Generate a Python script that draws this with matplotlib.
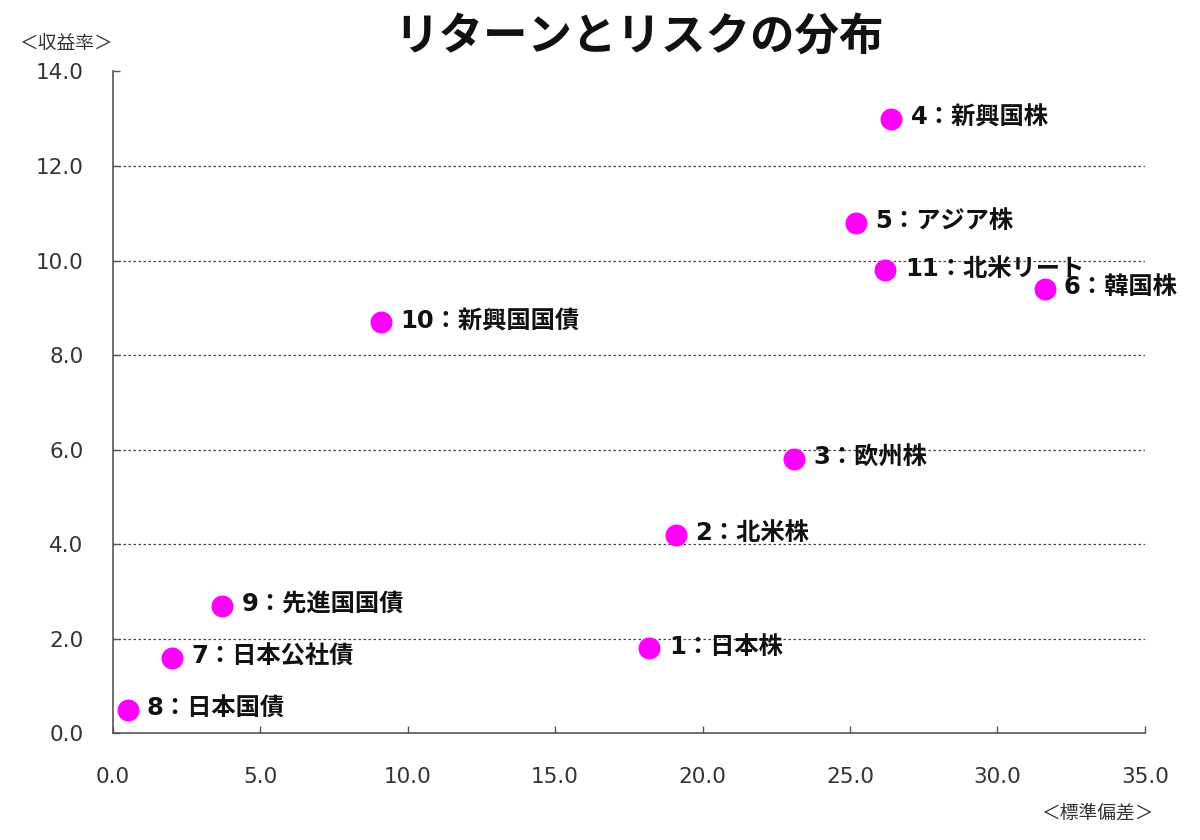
import matplotlib
matplotlib.use("Agg")
import matplotlib.pyplot as plt
from matplotlib.ticker import FormatStrFormatter

plt.rcParams['font.family'] = ['Noto Sans CJK JP', 'DejaVu Sans']

numbers = ["1", "2", "3", "4", "5", "6", "7", "8", "9", "10", "11"]
names = ["日本株", "北米株", "欧州株", "新興国株", "アジア株", "韓国株",
         "日本公社債", "日本国債", "先進国国債", "新興国国債", "北米リート"]
risk = [18.2, 19.1, 23.1, 26.4, 25.2, 31.6, 2.0, 0.5, 3.7, 9.1, 26.2]
ret = [1.8, 4.2, 5.8, 13.0, 10.8, 9.4, 1.6, 0.5, 2.7, 8.7, 9.8]
xticks = [0, 5, 10, 15, 20, 25, 30, 35]
yticks = [0, 2, 4, 6, 8, 10, 12, 14]

fig = plt.figure(figsize=(12, 8.4), dpi=100)
ax = fig.add_axes([0.094, 0.127, 0.860, 0.788])
ax.set_xlim(xticks[0], xticks[-1])
ax.set_ylim(yticks[0], yticks[-1])
ax.set_xticks(xticks)
ax.set_yticks(yticks)
ax.xaxis.set_major_formatter(FormatStrFormatter('%.1f'))
ax.yaxis.set_major_formatter(FormatStrFormatter('%.1f'))
for lab in ax.get_xticklabels() + ax.get_yticklabels():
    lab.set_fontfamily('DejaVu Sans')
ax.tick_params(axis='x', direction='in', length=5, width=1, pad=24,
               labelsize=15.5, labelcolor='#333333', color='#555555')
ax.tick_params(axis='y', direction='in', length=5, width=1, pad=21,
               labelsize=15.5, labelcolor='#333333', color='#555555')
for s in ['top', 'right']:
    ax.spines[s].set_visible(False)
for s in ['left', 'bottom']:
    ax.spines[s].set_color('#555555')
    ax.spines[s].set_linewidth(1.2)

for yv in yticks[1:-1]:
    ax.axhline(yv, color='#444444', linestyle=(0, (2, 2)), linewidth=0.9, zorder=1)

ax.scatter(risk, ret, s=220, color='#FF00FF', zorder=3, clip_on=False)
for n, name, x, y in zip(numbers, names, risk, ret):
    ax.annotate(f"{n}：{name}", (x, y), xytext=(14, 1), textcoords='offset points',
                ha='left', va='center', fontsize=17.5, fontweight='bold',
                family=['DejaVu Sans', 'Noto Sans CJK JP'],
                color='#111111', zorder=4)

fig.text(0.533, 0.957, "リターンとリスクの分布", ha='center', va='center',
         fontsize=32, fontweight='bold', color='#111111')
fig.text(0.055, 0.948, "＜収益率＞", ha='center', va='center', fontsize=13.5, color='#333333')
fig.text(0.914, 0.032, "＜標準偏差＞", ha='center', va='center', fontsize=13.5, color='#333333')

fig.savefig("out.png", dpi=100, facecolor='white')
